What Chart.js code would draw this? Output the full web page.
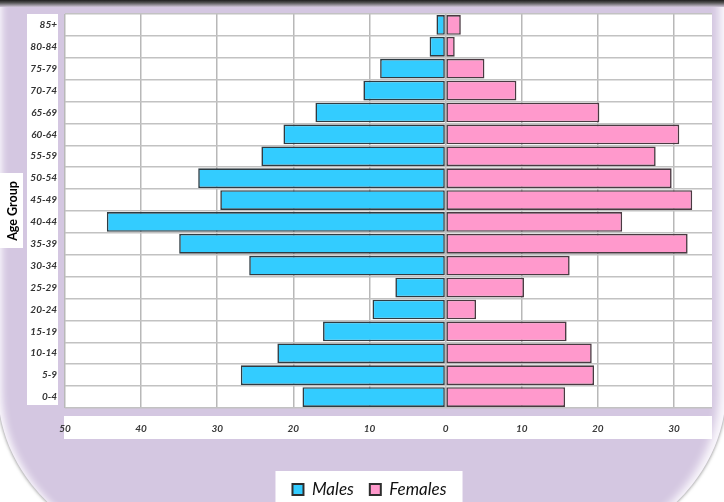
<!DOCTYPE html>
<html>
<head>
<meta charset="utf-8">
<script src="https://cdn.jsdelivr.net/npm/chart.js@4.4.1/dist/chart.umd.min.js"></script>
<style>
  html, body { margin: 0; padding: 0; background: #fff; }
  #wrap { position: relative; width: 724px; height: 502px; overflow: hidden; background: #fff; }
  #frame {
    position: absolute; left: -2px; top: 0; width: 728px; height: 560px;
    background: #d4c7e1;
    border-radius: 0 0 200px 200px / 0 0 170px 170px;
    box-shadow: inset 9px 0 7px -5px #fbf9fd, inset -12px 0 8px -5px #fbf9fd, 0 0 3px 1px rgba(90, 90, 90, 0.5);
  }
  #topbar {
    position: absolute; left: 0; top: 0; width: 724px; height: 7px;
    background: linear-gradient(#1e1e1e, #555 40%, #cfc6d8);
  }
  #chart { position: absolute; left: 0; top: 0; }
</style>
</head>
<body>
<div id="wrap">
  <div id="frame"></div>
  <div id="topbar"></div>
  <canvas id="chart" width="724" height="508"></canvas>
</div>
<script>
"use strict";

// top row first, as in the picture
const AGE_GROUPS = ["85+", "80-84", "75-79", "70-74", "65-69", "60-64", "55-59", "50-54", "45-49",
  "40-44", "35-39", "30-34", "25-29", "20-24", "15-19", "10-14", "5-9", "0-4"];
const MALES = [1.2, 2.1, 8.6, 10.8, 17.1, 21.3, 24.2, 32.5, 29.6,
  44.5, 35.0, 25.8, 6.6, 9.6, 16.1, 22.1, 26.9, 18.8];
const FEMALES = [2.0, 1.2, 5.1, 9.3, 20.2, 30.7, 27.6, 29.7, 32.4,
  23.2, 31.8, 16.3, 10.3, 4.0, 15.9, 19.2, 19.5, 15.7];
const X_MIN = -50, X_MAX = 35, X_STEP = 10;

const FONT = "Lato, 'Open Sans', sans-serif";

// white panels behind plot, tick labels, axis title and legend
const backdrop = {
  id: "backdrop",
  beforeDraw(chart) {
    const { ctx, chartArea: a } = chart;
    ctx.save();
    ctx.fillStyle = "#fff";
    ctx.fillRect(a.left, a.top, a.right - a.left, a.bottom - a.top);
    ctx.fillRect(27, a.top, 31, a.bottom - a.top - 3);
    ctx.fillRect(a.left - 1, a.bottom + 8, a.right - a.left + 1, 23);
    const mid = (a.top + a.bottom) / 2;
    ctx.fillRect(0, mid - 38, 23, 75);
    const boxes = chart.legend.legendHitBoxes;
    if (boxes && boxes.length) {
      const f = boxes[0], l = boxes[boxes.length - 1];
      const x0 = f.left - 17;
      ctx.fillRect(x0, f.top - 10, l.left + l.width + 16 - x0, 60);
    }
    ctx.restore();
  },
};

new Chart(document.getElementById("chart"), {
  type: "bar",
  data: {
    labels: AGE_GROUPS,
    datasets: [
      {
        label: "Males",
        data: MALES.map((v) => -v),
        backgroundColor: "#33ccff",
        borderColor: "#2f3b42",
        borderWidth: 1.6,
        borderSkipped: false,
        barPercentage: 0.9,
        categoryPercentage: 1.0,
      },
      {
        label: "Females",
        data: FEMALES,
        backgroundColor: "#ff99cc",
        borderColor: "#4a3a42",
        borderWidth: 1.6,
        borderSkipped: false,
        barPercentage: 0.9,
        categoryPercentage: 1.0,
      },
    ],
  },
  options: {
    indexAxis: "y",
    responsive: false,
    animation: false,
    devicePixelRatio: 1,
    layout: { padding: { left: 27, right: 12, top: 12, bottom: 0 } },
    plugins: {
      tooltip: { enabled: false },
      legend: {
        position: "bottom",
        labels: {
          boxWidth: 11,
          boxHeight: 11,
          padding: 16,
          color: "#111",
          font: { family: FONT, size: 17, style: "italic" },
          generateLabels(chart) {
            const items = Chart.defaults.plugins.legend.labels.generateLabels(chart);
            items.forEach((i) => { i.lineWidth = 2; i.strokeStyle = "#2e2e2e"; });
            return items;
          },
        },
      },
    },
    scales: {
      x: {
        type: "linear",
        min: X_MIN,
        max: X_MAX,
        stacked: true,
        border: { display: false },
        grid: { color: "#b8b8b8", lineWidth: 1.5, drawTicks: false },
        ticks: {
          stepSize: X_STEP,
          includeBounds: false,
          maxRotation: 0,
          padding: 15,
          color: "#3a3a3a",
          font: { family: FONT, size: 10, style: "italic", weight: "bold" },
          callback: (v) => Math.abs(v),
        },
        afterFit(s) { s.height = 57; },
      },
      y: {
        stacked: true,
        border: { display: false },
        grid: { offset: true, color: "#c2c2c2", lineWidth: 1.5, drawTicks: false },
        ticks: {
          padding: 8,
          color: "#333",
          font: { family: FONT, size: 10, style: "italic", weight: "bold" },
        },
        title: {
          display: true,
          text: "Age Group",
          color: "#000",
          font: { family: FONT, size: 12.5, weight: "bold" },
          padding: { top: -22, bottom: 0 },
        },
        afterFit(s) { s.width = 38; },
      },
    },
  },
  plugins: [backdrop],
});
</script>
</body>
</html>
